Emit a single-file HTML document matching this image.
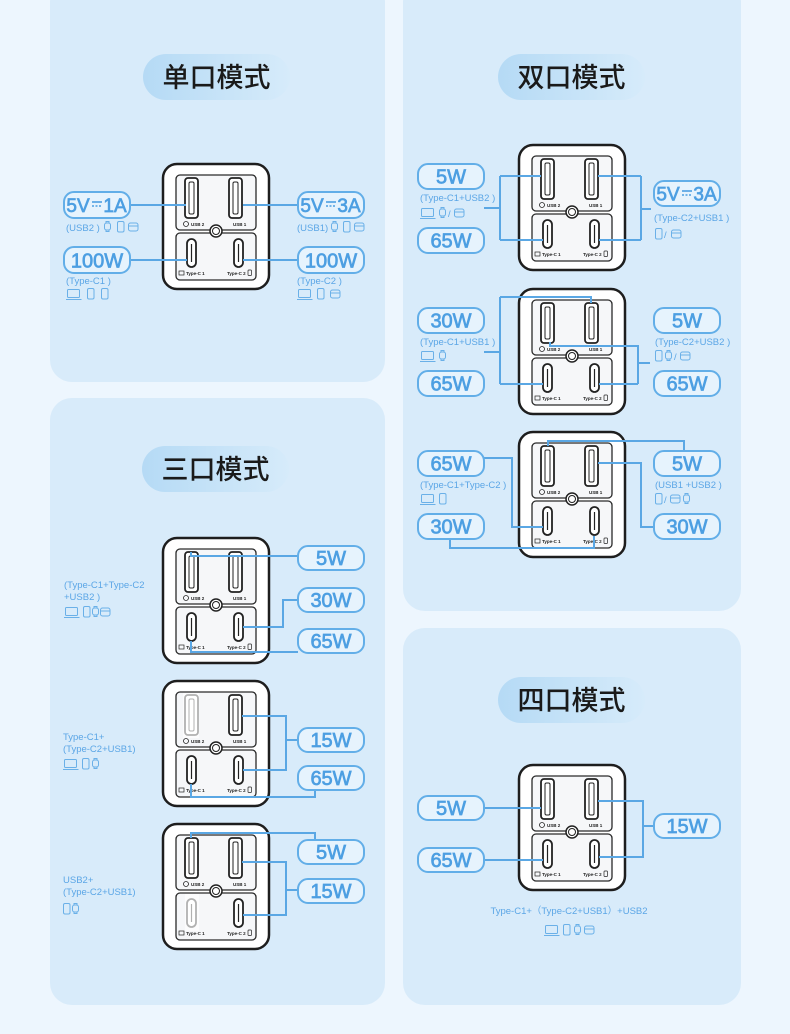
<!DOCTYPE html>
<html><head><meta charset="utf-8">
<style>
html,body{margin:0;padding:0;background:#edf6fe;}
svg{display:block;}
.pill rect{fill:#e6f3fd;stroke:#62aee8;stroke-width:2;}
.pill text{font-family:"Liberation Sans",sans-serif;font-weight:normal;font-size:20px;fill:#4d9fe2;stroke:#4d9fe2;stroke-width:0.7;text-anchor:middle;}
.ln{fill:none;stroke:#5aa7e4;stroke-width:2;}
.sm{font-family:"Liberation Sans","Noto Sans CJK SC",sans-serif;font-size:9.5px;fill:#5ba6e6;}
.ti{font-family:"Liberation Sans","Noto Sans CJK SC",sans-serif;font-size:27px;fill:#1a1a1a;text-anchor:middle;font-weight:500;}
.ic{fill:none;stroke:#6ab0e8;stroke-width:1;}
.cl{font-family:"Liberation Sans",sans-serif;font-size:4.5px;font-weight:bold;fill:#222;}
</style></head><body>
<svg width="790" height="1034" viewBox="0 0 790 1034" xmlns="http://www.w3.org/2000/svg">
<defs>
<linearGradient id="tg" x1="0" x2="1" y1="0" y2="0"><stop offset="0" stop-color="#b5daf5"/><stop offset="1" stop-color="#d6ebfa"/></linearGradient>
<g id="lap"><rect class="ic" x="0.5" y="0.5" width="12" height="8" rx="1"/><path class="ic" d="M-1 10.5H14.5"/></g>
<g id="ph"><rect class="ic" x="0.5" y="0.5" width="6.5" height="10.5" rx="1.5"/></g>
<g id="wa"><rect class="ic" x="0.5" y="2" width="6" height="7" rx="2"/><path class="ic" d="M2 2V0.5H5V2M2 9V10.5H5V9"/></g>
<g id="ca"><rect class="ic" x="0.5" y="2" width="9.5" height="8" rx="2"/><path class="ic" d="M0.5 5H10"/></g>
</defs>
<rect width="790" height="1034" fill="#edf6fe"/>
<!-- panels -->
<rect x="50" y="-20" width="335" height="402" rx="22" fill="#d8ebfa"/>
<rect x="403" y="-20" width="338" height="631" rx="22" fill="#d8ebfa"/>
<rect x="50" y="398" width="335" height="607" rx="22" fill="#d8ebfa"/>
<rect x="403" y="628" width="338" height="377" rx="22" fill="#d8ebfa"/>
<!-- titles -->
<rect x="143" y="54" width="147" height="46" rx="23" fill="url(#tg)"/><text class="ti" x="216.5" y="87">单口模式</text>
<rect x="498" y="54" width="147" height="46" rx="23" fill="url(#tg)"/><text class="ti" x="571.5" y="87">双口模式</text>
<rect x="142" y="446" width="147" height="46" rx="23" fill="url(#tg)"/><text class="ti" x="215.5" y="479">三口模式</text>
<rect x="498" y="677" width="147" height="46" rx="23" fill="url(#tg)"/><text class="ti" x="571.5" y="710">四口模式</text>

<!-- chargers -->
<g id="chg1" transform="translate(163,164)">
<rect x="0" y="0" width="106" height="125" rx="14" fill="#fff" stroke="#1e1e1e" stroke-width="2.5"/>
<rect x="13" y="11" width="80" height="55" rx="4" fill="#f6f7f9" stroke="#2a2a2a" stroke-width="1.3"/>
<rect x="13" y="69" width="80" height="47" rx="4" fill="#f6f7f9" stroke="#2a2a2a" stroke-width="1.3"/>
<rect x="22" y="14" width="13" height="40" rx="3" fill="#fff" stroke="#222" stroke-width="1.8"/><rect x="26" y="18" width="5" height="32" rx="1.5" fill="none" stroke="#222"/>
<rect x="66" y="14" width="13" height="40" rx="3" fill="#fff" stroke="#222" stroke-width="1.8"/><rect x="70" y="18" width="5" height="32" rx="1.5" fill="none" stroke="#222"/>
<circle cx="23" cy="60" r="2.5" fill="none" stroke="#222" stroke-width="0.8"/><text class="cl" x="28" y="62">USB 2</text><text class="cl" x="70" y="62">USB 1</text>
<circle cx="53" cy="67" r="6" fill="#fff" stroke="#222" stroke-width="1.5"/><circle cx="53" cy="67" r="3.5" fill="none" stroke="#222" stroke-width="1"/>
<rect x="24" y="75" width="9" height="28" rx="4.5" fill="#fff" stroke="#222" stroke-width="1.8"/><path d="M28.5 80V98" stroke="#222" stroke-width="1.2"/>
<rect x="71" y="75" width="9" height="28" rx="4.5" fill="#fff" stroke="#222" stroke-width="1.8"/><path d="M75.5 80V98" stroke="#222" stroke-width="1.2"/>
<rect x="16" y="107" width="5" height="4" fill="none" stroke="#222" stroke-width="0.7"/><text class="cl" x="23" y="111">Type-C 1</text>
<text class="cl" x="64" y="111">Type-C 2</text><rect x="85" y="106" width="3.5" height="5.5" rx="0.8" fill="none" stroke="#222" stroke-width="0.7"/>
</g>
<use href="#chg1" transform="translate(356,-19)"/>
<use href="#chg1" transform="translate(356,125)"/>
<use href="#chg1" transform="translate(356,268)"/>
<use href="#chg1" transform="translate(0,374)"/>
<use href="#chg1" transform="translate(0,517)"/>
<use href="#chg1" transform="translate(0,660)"/>
<use href="#chg1" transform="translate(356,601)"/>
<!-- grey-outs -->
<rect x="183" y="693" width="16" height="45" fill="#fff" opacity="0.65"/>
<rect x="185" y="894" width="14" height="37" fill="#fff" opacity="0.65"/>

<!-- connector lines -->
<path class="ln" d="M130 205H186M130 260H187M243 205H298M243 260H298"/>
<path class="ln" d="M484 208H500M500 176V240M500 176H541M500 240H543M641 176V240M641 209H651M598 176H641M599 240H641"/>
<path class="ln" d="M484 352H500M500 297V384M500 297H591V303M500 384H543M550 342V346H638V384M599 384H638M638 363H650"/>
<path class="ln" d="M484 458H512V527H543M450 539V548H594V536M548 446V441H684V451M598 463H641V527H654"/>
<path class="ln" d="M191 552V556H298M243 627H283V600H298M191 641V652H298"/>
<path class="ln" d="M242 716H286V770H243M286 740H298M191 784V797H315V790"/>
<path class="ln" d="M191 838V833H315V840M242 862H286V915H243M286 890H298"/>
<path class="ln" d="M484 808H541M484 860H543M598 801H643V857H599M643 826H654"/>

<!-- panel1 pills -->
<g class="pill" transform="translate(64,192)"><rect width="66" height="26" rx="10"/><text x="14" y="20" style="font-size:19px">5V</text><path d="M28 10H38" stroke="#4d9fe2" stroke-width="1.6"/><path d="M28 14H38" stroke="#4d9fe2" stroke-width="1.6" stroke-dasharray="2 1.5"/><text x="51" y="20" style="font-size:19px">1A</text></g>
<g class="pill" transform="translate(298,192)"><rect width="66" height="26" rx="10"/><text x="14" y="20" style="font-size:19px">5V</text><path d="M28 10H38" stroke="#4d9fe2" stroke-width="1.6"/><path d="M28 14H38" stroke="#4d9fe2" stroke-width="1.6" stroke-dasharray="2 1.5"/><text x="51" y="20" style="font-size:19px">3A</text></g>
<g class="pill" transform="translate(64,247)"><rect width="66" height="26" rx="10"/><text x="33" y="20.5">100W</text></g>
<g class="pill" transform="translate(298,247)"><rect width="66" height="26" rx="10"/><text x="33" y="20.5">100W</text></g>
<text class="sm" x="66" y="231">(USB2 )</text><use href="#wa" x="104" y="221"/><use href="#ph" x="117" y="221"/><use href="#ca" x="128" y="221"/>
<text class="sm" x="66" y="284">(Type-C1 )</text><use href="#lap" x="67" y="289"/><use href="#ph" x="87" y="288"/><use href="#ph" x="101" y="288"/>
<text class="sm" x="297" y="231">(USB1)</text><use href="#wa" x="331" y="221"/><use href="#ph" x="343" y="221"/><use href="#ca" x="354" y="221"/>
<text class="sm" x="297" y="284">(Type-C2 )</text><use href="#lap" x="298" y="289"/><use href="#ph" x="317" y="288"/><use href="#ca" x="330" y="288"/>

<!-- panel2 -->
<g class="pill" transform="translate(418,164)"><rect width="66" height="25" rx="10"/><text x="33" y="19.5">5W</text></g>
<g class="pill" transform="translate(418,228)"><rect width="66" height="25" rx="10"/><text x="33" y="19.5">65W</text></g>
<g class="pill" transform="translate(654,181)"><rect width="66" height="25" rx="10"/><text x="14" y="19.5" style="font-size:19px">5V</text><path d="M28 10H38" stroke="#4d9fe2" stroke-width="1.6"/><path d="M28 14H38" stroke="#4d9fe2" stroke-width="1.6" stroke-dasharray="2 1.5"/><text x="51" y="19.5" style="font-size:19px">3A</text></g>
<text class="sm" x="420" y="201">(Type-C1+USB2 )</text><use href="#lap" x="421" y="208"/><use href="#wa" x="439" y="207"/><text class="sm" x="448" y="217">/</text><use href="#ca" x="454" y="207"/>
<text class="sm" x="654" y="221">(Type-C2+USB1 )</text><use href="#ph" x="655" y="228"/><text class="sm" x="664" y="238">/</text><use href="#ca" x="671" y="228"/>

<g class="pill" transform="translate(418,308)"><rect width="66" height="25" rx="10"/><text x="33" y="19.5">30W</text></g>
<g class="pill" transform="translate(418,371)"><rect width="66" height="25" rx="10"/><text x="33" y="19.5">65W</text></g>
<g class="pill" transform="translate(654,308)"><rect width="66" height="25" rx="10"/><text x="33" y="19.5">5W</text></g>
<g class="pill" transform="translate(654,371)"><rect width="66" height="25" rx="10"/><text x="33" y="19.5">65W</text></g>
<text class="sm" x="420" y="345">(Type-C1+USB1 )</text><use href="#lap" x="421" y="351"/><use href="#wa" x="439" y="350"/>
<text class="sm" x="655" y="345">(Type-C2+USB2 )</text><use href="#ph" x="655" y="350"/><use href="#wa" x="665" y="350"/><text class="sm" x="674" y="360">/</text><use href="#ca" x="680" y="350"/>

<g class="pill" transform="translate(418,451)"><rect width="66" height="25" rx="10"/><text x="33" y="19.5">65W</text></g>
<g class="pill" transform="translate(418,514)"><rect width="66" height="25" rx="10"/><text x="33" y="19.5">30W</text></g>
<g class="pill" transform="translate(654,451)"><rect width="66" height="25" rx="10"/><text x="33" y="19.5">5W</text></g>
<g class="pill" transform="translate(654,514)"><rect width="66" height="25" rx="10"/><text x="33" y="19.5">30W</text></g>
<text class="sm" x="420" y="488">(Type-C1+Type-C2 )</text><use href="#lap" x="421" y="494"/><use href="#ph" x="439" y="493"/>
<text class="sm" x="655" y="488">(USB1 +USB2 )</text><use href="#ph" x="655" y="493"/><text class="sm" x="664" y="503">/</text><use href="#ca" x="670" y="493"/><use href="#wa" x="683" y="493"/>

<!-- panel3 -->
<g class="pill" transform="translate(298,546)"><rect width="66" height="24" rx="10"/><text x="33" y="19">5W</text></g>
<g class="pill" transform="translate(298,588)"><rect width="66" height="24" rx="10"/><text x="33" y="19">30W</text></g>
<g class="pill" transform="translate(298,629)"><rect width="66" height="24" rx="10"/><text x="33" y="19">65W</text></g>
<text class="sm" x="64" y="588">(Type-C1+Type-C2</text><text class="sm" x="64" y="600">+USB2 )</text>
<use href="#lap" x="65" y="607"/><use href="#ph" x="83" y="606"/><use href="#wa" x="92" y="606"/><use href="#ca" x="100" y="606"/>

<g class="pill" transform="translate(298,728)"><rect width="66" height="24" rx="10"/><text x="33" y="19">15W</text></g>
<g class="pill" transform="translate(298,766)"><rect width="66" height="24" rx="10"/><text x="33" y="19">65W</text></g>
<text class="sm" x="63" y="740">Type-C1+</text><text class="sm" x="63" y="752">(Type-C2+USB1)</text>
<use href="#lap" x="64" y="759"/><use href="#ph" x="82" y="758"/><use href="#wa" x="92" y="758"/>

<g class="pill" transform="translate(298,840)"><rect width="66" height="24" rx="10"/><text x="33" y="19">5W</text></g>
<g class="pill" transform="translate(298,879)"><rect width="66" height="24" rx="10"/><text x="33" y="19">15W</text></g>
<text class="sm" x="63" y="883">USB2+</text><text class="sm" x="63" y="895">(Type-C2+USB1)</text>
<use href="#ph" x="63" y="903"/><use href="#wa" x="72" y="903"/>

<!-- panel4 -->
<g class="pill" transform="translate(418,796)"><rect width="66" height="24" rx="10"/><text x="33" y="19">5W</text></g>
<g class="pill" transform="translate(418,848)"><rect width="66" height="24" rx="10"/><text x="33" y="19">65W</text></g>
<g class="pill" transform="translate(654,814)"><rect width="66" height="24" rx="10"/><text x="33" y="19">15W</text></g>
<text class="sm" x="569" y="914" text-anchor="middle">Type-C1+（Type-C2+USB1）+USB2</text>
<use href="#lap" x="545" y="925"/><use href="#ph" x="563" y="924"/><use href="#wa" x="574" y="924"/><use href="#ca" x="584" y="924"/>
</svg>
</body></html>
